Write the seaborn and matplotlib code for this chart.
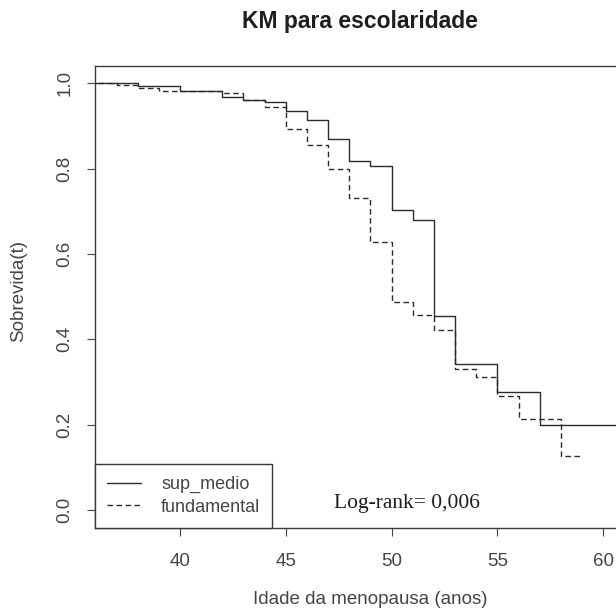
import matplotlib
matplotlib.use("Agg")
import matplotlib.pyplot as plt
import numpy as np
import pandas as pd
import seaborn as sns

# Kaplan-Meier survival estimates by schooling group (age at menopause, S(t))
sup_medio_idade = [0, 38, 40, 42, 43, 44, 45, 46, 47, 48, 49, 50, 51, 52, 53, 55, 57, 62]
sup_medio_surv = [1.0, 0.993, 0.983, 0.967, 0.961, 0.955, 0.936, 0.915, 0.869, 0.817,
                  0.805, 0.703, 0.679, 0.455, 0.341, 0.277, 0.200, 0.200]

fundamental_idade = [0, 37, 38, 39, 42, 43, 44, 45, 46, 47, 48, 49, 50, 51, 52, 53, 54,
                     55, 56, 58, 59]
fundamental_surv = [1.0, 0.995, 0.988, 0.983, 0.978, 0.961, 0.944, 0.892, 0.855, 0.798,
                    0.730, 0.629, 0.487, 0.457, 0.422, 0.330, 0.311, 0.267, 0.213, 0.127,
                    0.127]

grupos = ["sup_medio", "fundamental"]
x_ticks = [40, 45, 50, 55, 60]
y_ticks = [0.0, 0.2, 0.4, 0.6, 0.8, 1.0]
y_tick_labels = ["0.0", "0.2", "0.4", "0.6", "0.8", "1.0"]

titulo = "KM para escolaridade"
rotulo_x = "Idade da menopausa (anos)"
rotulo_y = "Sobrevida(t)"
logrank_texto = "Log-rank= 0,006"
logrank_pos = (50.7, 0.004)

df = pd.concat([
    pd.DataFrame({"idade": sup_medio_idade, "surv": sup_medio_surv, "grupo": grupos[0]}),
    pd.DataFrame({"idade": fundamental_idade, "surv": fundamental_surv, "grupo": grupos[1]}),
], ignore_index=True)

sns.set_theme(style="white")
plt.rcParams["font.family"] = ["Liberation Sans", "DejaVu Sans"]

W, H = 616, 612
fig = plt.figure(figsize=(W / 100, H / 100), dpi=100)
ax_left, ax_right, ax_top, ax_bottom = 95, 640, 66, 527.7
ax = fig.add_axes([ax_left / W, 1 - ax_bottom / H,
                   (ax_right - ax_left) / W, (ax_bottom - ax_top) / H])

linha = "#2b2b2b"
texto = "#454545"

sns.lineplot(data=df, x="idade", y="surv", style="grupo", style_order=grupos,
             dashes={"sup_medio": "", "fundamental": (4, 2.5)},
             color=linha, linewidth=1.0, drawstyle="steps-post",
             estimator=None, sort=False, legend=False, ax=ax)

ax.set_xlim(35.984, 61.733)
ax.set_ylim(-0.0415, 1.0405)

ax.set_xticks(x_ticks, labels=[str(v) for v in x_ticks])
ax.set_yticks(y_ticks, labels=y_tick_labels, rotation=90, va="center")
ax.tick_params(axis="both", direction="out", length=6, width=0.8, color=texto,
               labelcolor=texto, labelsize=13.5, bottom=True, left=True)
ax.tick_params(axis="x", pad=12)
ax.tick_params(axis="y", pad=9.5)

for s in ax.spines.values():
    s.set_visible(True)
    s.set_color("#3a3a3a")
    s.set_linewidth(1.0)

ax.set_xlabel(rotulo_x, fontsize=13.5, color=texto, va="center")
ax.set_ylabel(rotulo_y, fontsize=13.5, color=texto, va="center")
ax.xaxis.set_label_coords((370 - ax_left) / (ax_right - ax_left),
                          (ax_bottom - 599) / (ax_bottom - ax_top))
ax.yaxis.set_label_coords((19 - ax_left) / (ax_right - ax_left),
                          (ax_bottom - 291.5) / (ax_bottom - ax_top))

fig.text(359.5 / W, 1 - 28.3 / H, titulo, ha="center", va="baseline",
         fontsize=16.5, fontweight="bold", color="#1e1e1e")

ax.text(logrank_pos[0], logrank_pos[1], logrank_texto, ha="center", va="baseline",
        fontsize=15.5, family=["Liberation Serif", "DejaVu Serif"], color="#1e1e1e")

leg = ax.legend(ax.get_lines()[:2], grupos, loc="lower left", bbox_to_anchor=(0, 0),
                borderaxespad=0, frameon=True, fancybox=False, framealpha=1,
                edgecolor="#3a3a3a", fontsize=13, handlelength=1.9,
                handletextpad=1.1, borderpad=0.66, labelspacing=0.3)
leg.get_frame().set_linewidth(1.0)
for t in leg.get_texts():
    t.set_color(texto)

fig.savefig("out.png", dpi=100, facecolor="white")
